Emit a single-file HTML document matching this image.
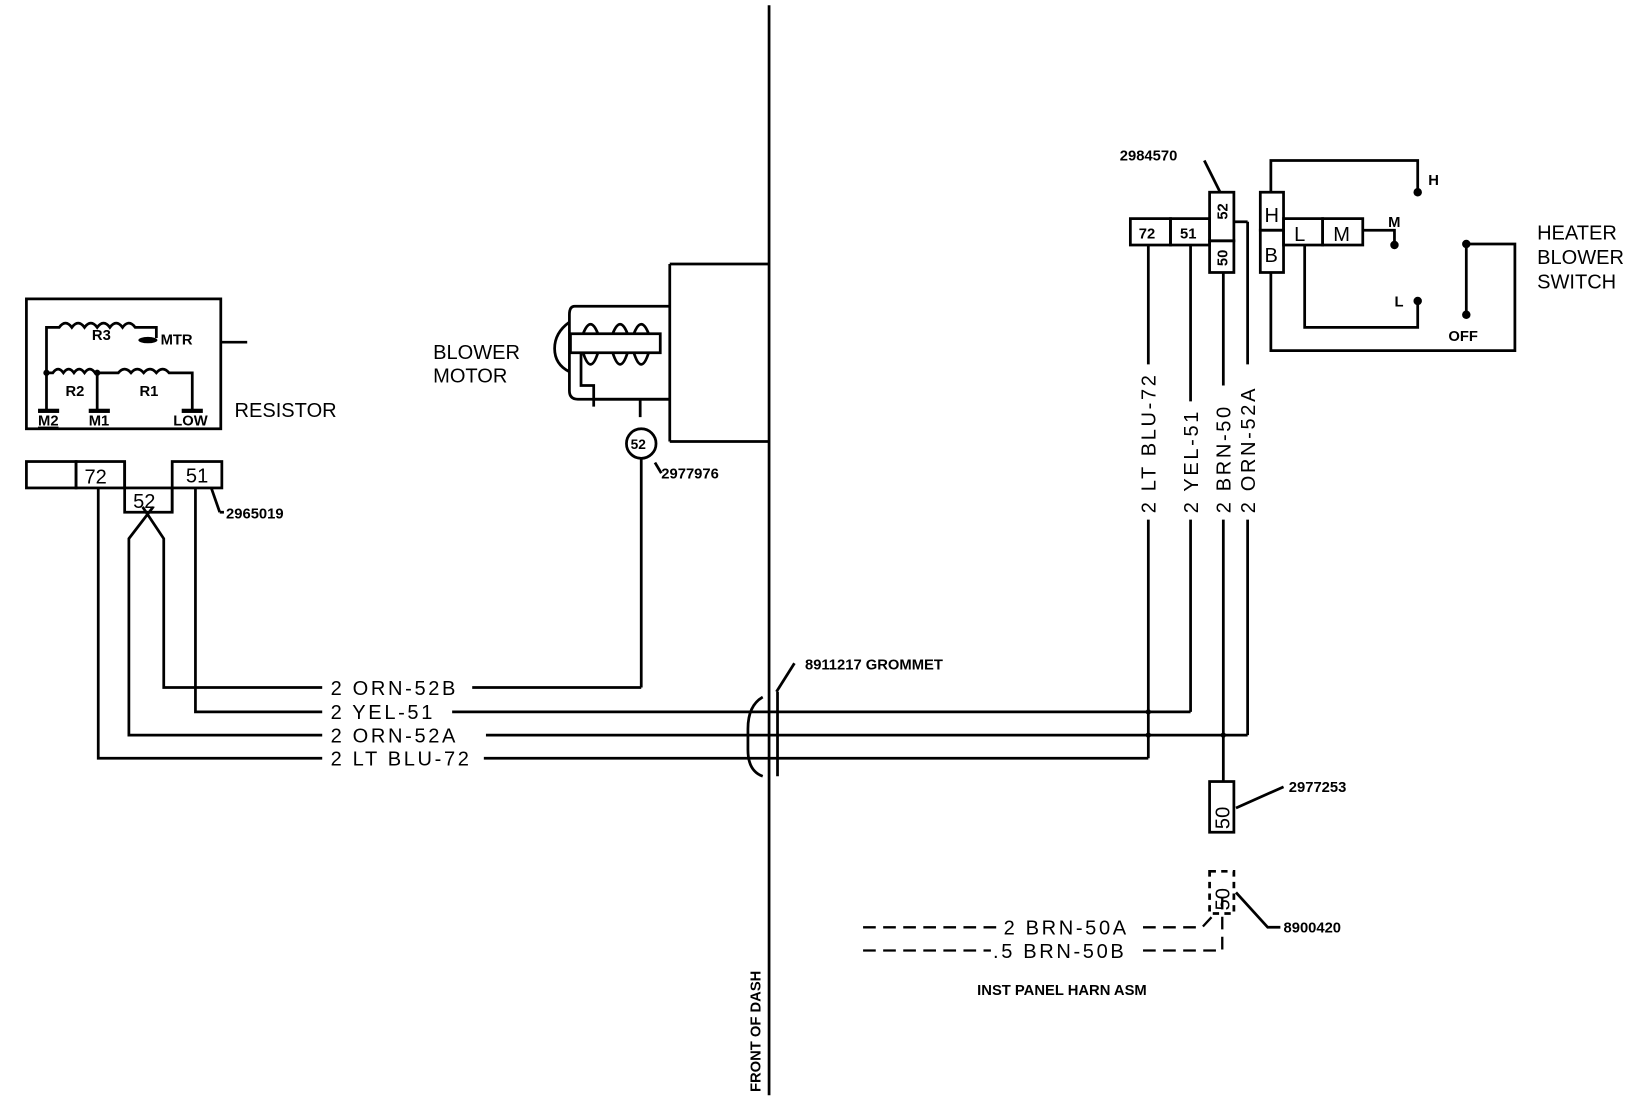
<!DOCTYPE html>
<html><head><meta charset="utf-8"><style>
html,body{margin:0;padding:0;background:#fff;}
svg{display:block;}
text{font-family:"Liberation Sans",sans-serif;fill:#000;}
.b{font-weight:bold;font-size:14px;}
.w{font-size:19px;}
.l{font-size:19px;letter-spacing:2.5px;}
</style></head><body>
<svg width="1648" height="1110" viewBox="0 0 1560 1051" preserveAspectRatio="none" xmlns="http://www.w3.org/2000/svg">
<g fill="none" stroke="#000" stroke-width="2.6">
<line x1="728" y1="5" x2="728" y2="1037"/>
<rect x="25" y="283" width="184" height="123"/>
<line x1="209" y1="324" x2="234" y2="324"/>
<path d="M44,390 V310 H56 q6,-8 12,0 q6,-8 12,0 q6,-8 12,0 q6,-8 12,0 q6,-8 12,0 q6,-8 12,0 H148 V320"/>
<path d="M44,353 H50 q5,-7 10,0 q5,-7 10,0 q5,-7 10,0 q5,-7 10,0 H112 q6,-7 12,0 q6,-7 12,0 q6,-7 12,0 q6,-7 12,0 H182 V388"/>
<line x1="92" y1="353" x2="92" y2="388"/>
</g>
<circle cx="44" cy="353" r="3"/><circle cx="92" cy="353" r="3"/>
<ellipse cx="140" cy="322" rx="9" ry="3"/>
<rect x="36" y="387" width="20" height="4"/><rect x="84" y="387" width="20" height="4"/><rect x="172" y="387" width="20" height="4"/>
<text class="b" x="87" y="322">R3</text><text class="b" x="152" y="326">MTR</text>
<text class="b" x="62" y="375">R2</text><text class="b" x="132" y="375">R1</text>
<text class="b" x="36" y="403" style="text-decoration:underline">M2</text>
<text class="b" x="84" y="403">M1</text><text class="b" x="164" y="403">LOW</text>
<text class="w" x="222" y="395">RESISTOR</text>
<g fill="none" stroke="#000" stroke-width="2.6">
<rect x="25" y="437" width="47" height="25"/><rect x="72" y="437" width="46" height="25"/>
<rect x="163" y="437" width="47" height="25"/><rect x="118" y="462" width="45" height="23"/>
<line x1="118" y1="437" x2="118" y2="462"/><line x1="163" y1="462" x2="163" y2="485"/>
<line x1="200" y1="462" x2="208" y2="485"/><line x1="208" y1="485" x2="212" y2="485"/>
<polyline points="93,462 93,718 305,718"/>
<polyline points="145,480 122,510 122,696 305,696"/>
<polyline points="135,480 155,510 155,651 305,651"/>
<polyline points="185,462 185,674 305,674"/>
<line x1="447" y1="651" x2="607" y2="651"/><line x1="607" y1="651" x2="607" y2="434"/>
<line x1="428" y1="674" x2="1127" y2="674"/><line x1="1127" y1="674" x2="1127" y2="492"/><line x1="1127" y1="380" x2="1127" y2="232"/>
<line x1="460" y1="696" x2="1181" y2="696"/><line x1="1181" y1="696" x2="1181" y2="492"/><line x1="1181" y1="345" x2="1181" y2="210"/><line x1="1168" y1="210" x2="1181" y2="210"/>
<line x1="458" y1="718" x2="1087" y2="718"/><line x1="1087" y1="718" x2="1087" y2="492"/><line x1="1087" y1="345" x2="1087" y2="232"/>
<line x1="1158" y1="258" x2="1158" y2="365"/><line x1="1158" y1="492" x2="1158" y2="740"/>
<path d="M736,655 V735"/>
<path d="M722,660 q-14,8 -14,30 v20 q0,20 14,25"/>
<line x1="735" y1="655" x2="752" y2="628"/>
<path d="M634,250 H728 M634,418 H728 M634,250 V418"/>
<path d="M634,290 H544 q-5,0 -5,8 V370 q0,8 8,8 H634"/>
<path d="M539,305 q-14,10 -14,25 q0,15 14,22"/>
<rect x="540" y="316" width="85" height="18"/>
<path d="M552,316 q7,-18 14,0 M580,316 q7,-18 14,0 M600,316 q7,-18 14,0 M552,334 q7,22 14,0 M580,334 q7,22 14,0 M600,334 q7,22 14,0"/>
<path d="M550,334 V365 H562 V385 M562,378 H634 M606,378 V395"/>
<circle cx="607" cy="420" r="14"/>
<line x1="620" y1="438" x2="626" y2="448"/>
<rect x="1070" y="207" width="38" height="25"/><rect x="1108" y="207" width="37" height="25"/>
<rect x="1145" y="182" width="23" height="46"/><rect x="1145" y="228" width="23" height="30"/>
<line x1="1140" y1="152" x2="1155" y2="182"/>
<rect x="1193" y="182" width="22" height="36"/><rect x="1193" y="218" width="22" height="40"/>
<rect x="1215" y="207" width="37" height="25"/><rect x="1252" y="207" width="38" height="25"/>
<polyline points="1290,218 1320,218 1320,232"/>
<polyline points="1203,182 1203,152 1342,152 1342,182"/>
<polyline points="1235,232 1235,310 1342,310 1342,285"/>
<polyline points="1203,258 1203,332 1434,332 1434,231 1388,231"/>
<line x1="1388" y1="231" x2="1388" y2="298"/>
<rect x="1145" y="740" width="23" height="48"/>
<line x1="1170" y1="765" x2="1215" y2="745"/>
<rect x="1145" y="825" width="23" height="40" stroke-dasharray="6,5"/>
<polyline points="1170,845 1200,878 1212,878"/>
</g>
<g fill="none" stroke="#000" stroke-width="2.2" stroke-dasharray="12,7">
<line x1="817" y1="878" x2="945" y2="878"/><polyline points="1082,878 1138,878 1150,865"/>
<line x1="817" y1="900" x2="938" y2="900"/><polyline points="1082,900 1157,900 1157,850"/>
</g>
<circle cx="1342" cy="182" r="4"/><circle cx="1320" cy="232" r="4"/><circle cx="1342" cy="285" r="4"/>
<circle cx="1388" cy="231" r="4"/><circle cx="1388" cy="298" r="4"/>
<circle cx="1087" cy="674" r="2.5"/><circle cx="1087" cy="696" r="2.5"/><circle cx="1158" cy="696" r="2.5"/>
<text class="b" x="1352" y="175">H</text><text class="b" x="1314" y="215">M</text>
<text class="b" x="1320" y="290">L</text><text class="b" x="1371" y="323">OFF</text>
<text class="w" x="1455" y="227">HEATER</text><text class="w" x="1455" y="250">BLOWER</text><text class="w" x="1455" y="273">SWITCH</text>
<text class="b" x="1078" y="226">72</text><text class="b" x="1117" y="226">51</text>
<text class="b" transform="translate(1162,208) rotate(-90)">52</text>
<text class="b" transform="translate(1162,252) rotate(-90)">50</text>
<text class="w" x="1197" y="210">H</text><text class="w" x="1197" y="248">B</text>
<text class="w" x="1225" y="228">L</text><text class="w" x="1262" y="228">M</text>
<text class="b" x="1060" y="152">2984570</text>
<text class="w" x="410" y="340">BLOWER</text><text class="w" x="410" y="362">MOTOR</text>
<text class="b" x="597" y="425" style="font-size:13px">52</text>
<text class="b" x="626" y="453">2977976</text>
<text class="w" x="80" y="458">72</text><text class="w" x="176" y="457">51</text><text class="w" x="126" y="481">52</text>
<text class="b" x="214" y="491">2965019</text>
<text class="l" x="313" y="658">2 ORN-52B</text>
<text class="l" x="313" y="681">2 YEL-51</text>
<text class="l" x="313" y="703">2 ORN-52A</text>
<text class="l" x="313" y="725">2 LT BLU-72</text>
<text class="b" x="762" y="634">8911217 GROMMET</text>
<text class="l" transform="translate(1094,486) rotate(-90)">2 LT BLU-72</text>
<text class="l" transform="translate(1134,486) rotate(-90)">2 YEL-51</text>
<text class="l" transform="translate(1165,486) rotate(-90)">2 BRN-50</text>
<text class="l" transform="translate(1188,486) rotate(-90)">2 ORN-52A</text>
<text class="w" transform="translate(1164,785) rotate(-90)">50</text>
<text class="w" transform="translate(1164,862) rotate(-90)">50</text>
<text class="b" x="1220" y="750">2977253</text>
<text class="b" x="1215" y="883">8900420</text>
<text class="l" x="950" y="885">2 BRN-50A</text>
<text class="l" x="940" y="907">.5 BRN-50B</text>
<text class="b" x="925" y="942">INST PANEL HARN ASM</text>
<text class="b" transform="translate(720,1034) rotate(-90)">FRONT OF DASH</text>
</svg>
</body></html>
